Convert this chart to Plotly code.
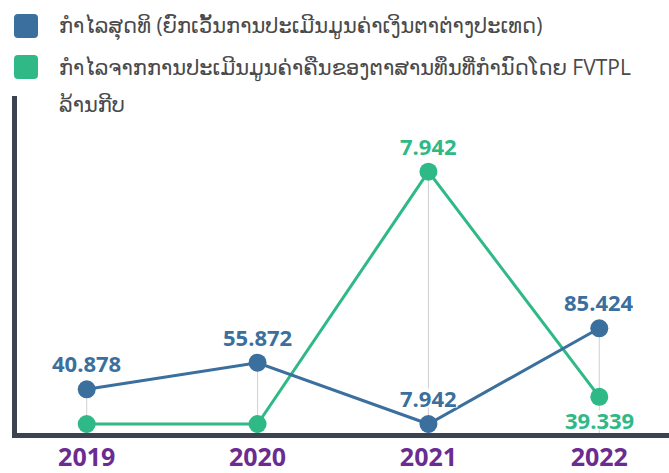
import plotly.graph_objects as go

years = ["2019", "2020", "2021", "2022"]
net_profit = [35.0, 56.3, 7.2, 83.9]          # estimated plotted positions
fvtpl_profit = [7.2, 7.2, 209.4, 29.0]       # estimated plotted positions
net_labels = ["40.878", "55.872", "7.942", "85.424"]
fvtpl_labels = ["", "", "7.942", "39.339"]

series_names = [
    "ກຳໄລສຸດທິ (ຍົກເວັ້ນການປະເມີນມູນຄ່າເງິນຕາຕ່າງປະເທດ)",
    "ກຳໄລຈາກການປະເມີນມູນຄ່າຄືນຂອງຕາສານທຶນທີ່ກຳນົດໂດຍ FVTPL",
]
unit_label = "ລ້ານກີບ"

BLUE = "#3b6f9d"
GREEN = "#2fb987"
PURPLE = "#6b2c91"
AXIS = "#3b4350"
TEXT = "#4a4a4a"
FONT = "Open Sans, DejaVu Sans, sans-serif"

xs = list(range(len(years)))

fig = go.Figure()

# drop lines from axis to the higher point
dx, dy = [], []
for i in xs:
    dx += [i, i, None]
    dy += [0, max(net_profit[i], fvtpl_profit[i]), None]
fig.add_trace(go.Scatter(x=dx, y=dy, mode="lines",
                         line=dict(color="#d0d0d0", width=1),
                         hoverinfo="skip", showlegend=False))

fig.add_trace(go.Scatter(x=xs, y=fvtpl_profit, mode="lines+markers",
                         line=dict(color=GREEN, width=3),
                         marker=dict(size=18, color=GREEN),
                         name=series_names[1], showlegend=False))
fig.add_trace(go.Scatter(x=xs, y=net_profit, mode="lines+markers",
                         line=dict(color=BLUE, width=3),
                         marker=dict(size=18, color=BLUE),
                         name=series_names[0], showlegend=False))

annotations = []
for i in xs:
    if net_labels[i]:
        annotations.append(dict(x=i, y=net_profit[i], text=net_labels[i],
                                showarrow=False, yshift=26, bgcolor="white",
                                borderpad=0, height=18,
                                font=dict(family=FONT, size=22, color=BLUE, weight=700)))
    if fvtpl_labels[i]:
        below = fvtpl_profit[i] < net_profit[i]
        annotations.append(dict(x=i, y=fvtpl_profit[i], text=fvtpl_labels[i],
                                showarrow=False, yshift=-23 if below else 26,
                                bgcolor="white", borderpad=0, height=18,
                                font=dict(family=FONT, size=22, color=GREEN, weight=700)))

# legend texts
legend_rows = [(series_names[0], 26), (series_names[1], 67), (unit_label, 104)]
for txt, ypix in legend_rows:
    annotations.append(dict(xref="paper", yref="paper", x=(57 - 17) / 652,
                            y=(433 - ypix) / 337, xanchor="left", yanchor="middle",
                            text=txt, showarrow=False,
                            font=dict(family=FONT, size=21, color=TEXT)))

def rounded_square(cx, cy, s, r):
    h = s / 2
    return (f"M{cx-h+r},{cy-h} L{cx+h-r},{cy-h} Q{cx+h},{cy-h} {cx+h},{cy-h+r} "
            f"L{cx+h},{cy+h-r} Q{cx+h},{cy+h} {cx+h-r},{cy+h} "
            f"L{cx-h+r},{cy+h} Q{cx-h},{cy+h} {cx-h},{cy+h-r} "
            f"L{cx-h},{cy-h+r} Q{cx-h},{cy-h} {cx-h+r},{cy-h} Z")

shapes = []
for color, ypix in [(BLUE, 26), (GREEN, 67)]:
    shapes.append(dict(type="path", xref="paper", yref="paper",
                       xsizemode="pixel", ysizemode="pixel",
                       xanchor=0, yanchor=1,
                       path=rounded_square(26 - 17, -(ypix - 96), 24, 4),
                       fillcolor=color, line=dict(width=0)))

fig.update_layout(
    width=669, height=473,
    margin=dict(l=17, r=0, t=96, b=40),
    paper_bgcolor="white", plot_bgcolor="white",
    font=dict(family=FONT),
    annotations=annotations,
    shapes=shapes,
    xaxis=dict(range=[-0.408, 3.408], tickvals=xs, ticktext=years,
               showgrid=False, zeroline=False, showline=True,
               linewidth=5, linecolor=AXIS, ticks="", ticklabelstandoff=-2,
               tickfont=dict(family=FONT, size=25, color=PURPLE, weight=700)),
    yaxis=dict(range=[0, 270], showgrid=False, zeroline=False,
               showticklabels=False, showline=True, linewidth=5,
               linecolor=AXIS, ticks=""),
)

fig.write_html("out.html", config={"displayModeBar": False},
               post_script="document.body.style.margin='0px';document.body.style.overflow='hidden';")
